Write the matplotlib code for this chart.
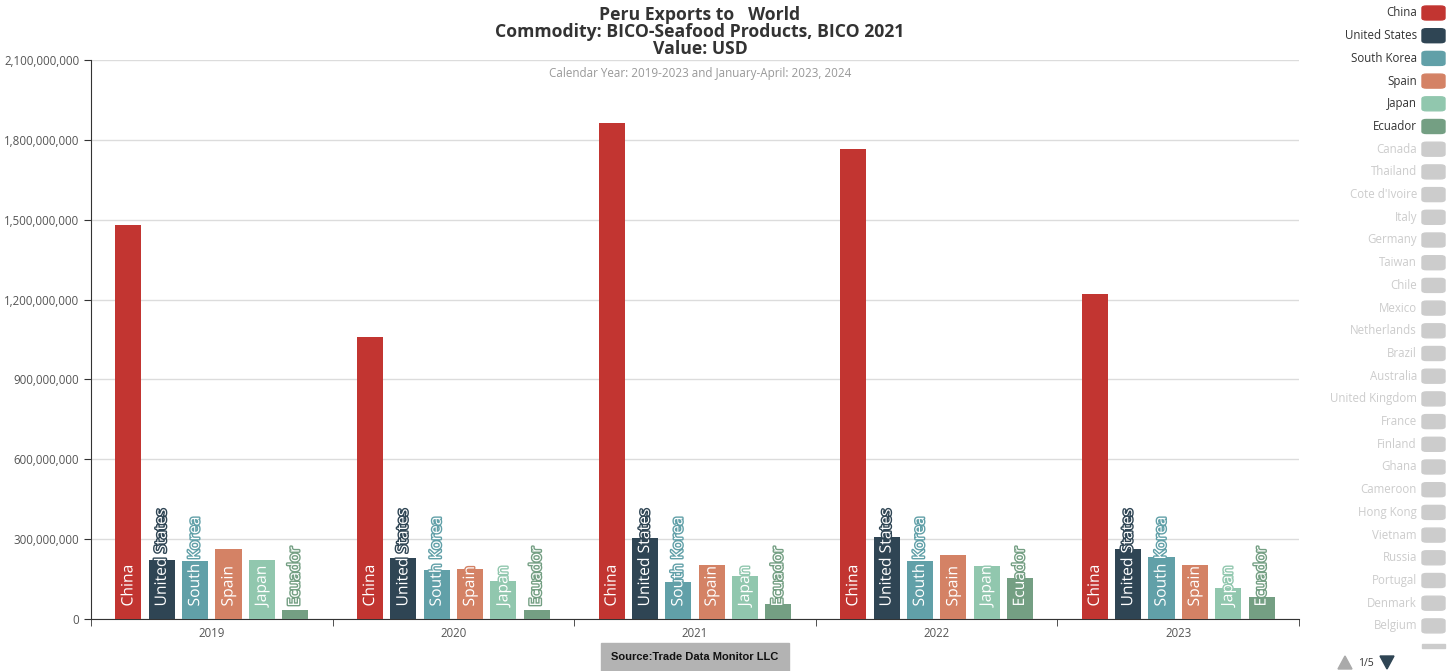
import numpy as np
import matplotlib
matplotlib.use("Agg")
import matplotlib.pyplot as plt
import matplotlib.patheffects as pe
from matplotlib.patches import FancyBboxPatch, Rectangle, Polygon
from matplotlib.ticker import FuncFormatter, MultipleLocator

plt.rcParams['font.family'] = ['Open Sans', 'DejaVu Sans']

# data (USD)
years = ["2019", "2020", "2021", "2022", "2023"]
countries = ["China", "United States", "South Korea", "Spain", "Japan", "Ecuador"]
colors = ["#c23531", "#2f4554", "#61a0a8", "#d48265", "#91c7ae", "#749f83"]
china = [1480e6, 1058e6, 1863e6, 1765e6, 1220e6]
united_states = [222e6, 229e6, 304e6, 308e6, 263e6]
south_korea = [218e6, 184e6, 139e6, 218e6, 233e6]
spain = [263e6, 188e6, 203e6, 240e6, 203e6]
japan = [222e6, 143e6, 162e6, 199e6, 116e6]
ecuador = [34e6, 34e6, 56e6, 154e6, 83e6]
series = [china, united_states, south_korea, spain, japan, ecuador]

hidden = ["Canada", "Thailand", "Cote d'Ivoire", "Italy", "Germany", "Taiwan",
          "Chile", "Mexico", "Netherlands", "Brazil", "Australia", "United Kingdom",
          "France", "Finland", "Ghana", "Cameroon", "Hong Kong", "Vietnam",
          "Russia", "Portugal", "Denmark", "Belgium"]

W, H = 1447, 671
fig = plt.figure(figsize=(W / 100, H / 100), dpi=100)

def fx(px):
    return px / W

def fy(py):
    return 1 - py / H

ax = fig.add_axes([fx(91), fy(619), fx(1299) - fx(91), fy(60) - fy(619)])

x = np.arange(len(years))
step = 0.138
bw = 0.108
for i, (name, vals, c) in enumerate(zip(countries, series, colors)):
    off = (i - 2.5) * step
    ax.bar(x + off, vals, width=bw, color=c, zorder=3)
    for xi, v in zip(x, vals):
        ax.annotate(name, (xi + off, 0), xytext=(0, 9), textcoords="offset points",
                    rotation=90, ha="center", va="bottom", color="white",
                    fontsize=11.3, zorder=4,
                    path_effects=[pe.withStroke(linewidth=2, foreground=c)])

ax.set_xlim(-0.5, len(years) - 0.5)
ax.set_ylim(0, 2.1e9)
ax.yaxis.set_major_locator(MultipleLocator(300e6))
ax.yaxis.set_major_formatter(FuncFormatter(lambda v, p: f"{int(v):,}"))
ax.set_xticks(x)
ax.set_xticklabels(years)
ax.set_xticks(np.arange(-0.5, len(years)), minor=True)
ax.tick_params(axis="x", which="major", length=0, labelsize=8.3, colors="#555", pad=6)
ax.tick_params(axis="x", which="minor", length=5, color="#333")
ax.tick_params(axis="y", length=5, color="#333", labelsize=8.3, labelcolor="#555")
ax.grid(axis="y", color="#dcdcdc", linewidth=1, zorder=0)
for s in ["top", "right"]:
    ax.spines[s].set_visible(False)
for s in ["left", "bottom"]:
    ax.spines[s].set_color("#333")

# titles
fig.text(fx(700), fy(6), "Peru Exports to   World\nCommodity: BICO-Seafood Products, BICO 2021\nValue: USD",
         ha="center", va="top", fontsize=12.7, fontweight="bold", color="#333",
         linespacing=0.92)
fig.text(fx(700), fy(73), "Calendar Year: 2019-2023 and January-April: 2023, 2024",
         ha="center", va="center", fontsize=8.4, color="#999")

# source box
fig.patches.append(Rectangle((fx(601), fy(671)), fx(789) - fx(601), fy(643) - fy(671),
                             transform=fig.transFigure, color="#b3b3b3"))
fig.text(fx(695), fy(657), "Source:Trade Data Monitor LLC", ha="center", va="center",
         fontsize=8, fontweight="bold", color="#111", family="Liberation Sans")

# legend
names = countries + hidden
cols = colors + ["#cccccc"] * len(hidden)
for k, (n, c) in enumerate(zip(names, cols)):
    yy = 13 + k * 22.7
    tc = "#333" if k < len(countries) else "#cccccc"
    fig.text(fx(1417), fy(yy), n, ha="right", va="center", fontsize=8.3, color=tc)
    fig.patches.append(FancyBboxPatch((fx(1422), fy(yy + 7)), fx(23), fy(0) - fy(14),
                                      boxstyle="round,pad=0,rounding_size=0.003",
                                      transform=fig.transFigure, color=c))
# next legend item, cut off by the legend area
fig.patches.append(Rectangle((fx(1422), fy(648)), fx(23), fy(644) - fy(648),
                             transform=fig.transFigure, color="#cccccc"))

# pager
fig.patches.append(Polygon([[fx(1338), fy(669)], [fx(1352), fy(669)], [fx(1345), fy(656)]],
                           closed=True, transform=fig.transFigure, color="#aaaaaa"))
fig.text(fx(1366), fy(663), "1/5", ha="center", va="center", fontsize=7.5, color="#333")
fig.patches.append(Polygon([[fx(1380), fy(656)], [fx(1394), fy(656)], [fx(1387), fy(669)]],
                           closed=True, transform=fig.transFigure, color="#2f4554"))

fig.savefig("out.png", dpi=100)
